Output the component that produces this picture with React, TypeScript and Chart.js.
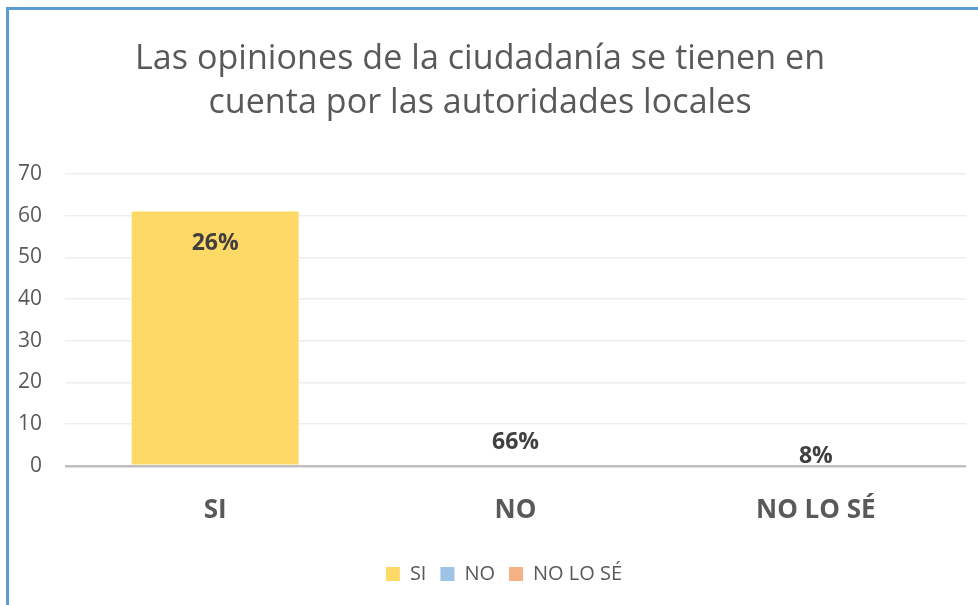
import React, { useEffect, useRef } from 'react';
import { Chart, registerables } from 'chart.js';

Chart.register(...registerables);

// ---- data ----
const categories = ['SI', 'NO', 'NO LO SÉ'];
const values = [61, 0, 0];
const percentLabels = ['26%', '66%', '8%'];
const barColors = ['#FFD966', '#9DC3E6', '#F4B183'];
const titleLines = [
  'Las opiniones de la ciudadanía se tienen en',
  'cuenta por las autoridades locales',
];
const yMin = 0;
const yMax = 70;
const yStep = 10;

const FONT = '"Open Sans", Lato, sans-serif';
const TEXT = '#595959';

const titlePlugin = {
  id: 'customTitle',
  afterDraw(chart: any, _args: any, opts: any) {
    const ctx = chart.ctx;
    ctx.save();
    ctx.fillStyle = TEXT;
    ctx.font = `${opts.size}px ${FONT}`;
    ctx.textAlign = 'center';
    ctx.textBaseline = 'alphabetic';
    const first = (opts.lines as string[])[0];
    const w = ctx.measureText(first).width;
    const spacing = Math.max(0, (opts.firstLineWidth - w) / (first.length - 1));
    (ctx as any).letterSpacing = `${spacing.toFixed(2)}px`;
    (opts.lines as string[]).forEach((l, i) => {
      ctx.fillText(l, opts.x + spacing / 2, opts.y + i * opts.gap);
    });
    ctx.restore();
  },
};

const valueLabelPlugin = {
  id: 'valueLabels',
  afterDatasetsDraw(chart: any, _args: any, opts: any) {
    const ctx = chart.ctx;
    const meta = chart.getDatasetMeta(0);
    const yScale = chart.scales.y;
    ctx.save();
    ctx.fillStyle = '#404040';
    ctx.font = `bold ${opts.size}px ${FONT}`;
    ctx.textAlign = 'center';
    ctx.textBaseline = 'middle';
    meta.data.forEach((bar: any, i: number) => {
      const v = values[i];
      const y = v > 0 ? bar.y + opts.insideOffset : yScale.getPixelForValue(0) - opts.zeroLift[i];
      ctx.fillText(percentLabels[i], bar.x, y);
    });
    ctx.restore();
  },
};

export default function App() {
  const ref = useRef<HTMLCanvasElement | null>(null);

  useEffect(() => {
    if (!ref.current) return;
    const chart = new Chart(ref.current, {
      type: 'bar',
      data: {
        labels: categories,
        datasets: [
          {
            label: 'Serie',
            data: values,
            backgroundColor: barColors,
            borderWidth: 0,
            categoryPercentage: 1,
            barPercentage: 0.556,
            yAxisID: 'y',
          },
        ],
      },
      options: {
        animation: false,
        responsive: false,
        devicePixelRatio: 1,
        layout: { padding: { top: 164, left: 0, right: 0, bottom: 11 } },
        scales: {
          x: {
            grid: { display: false, drawTicks: false },
            border: { display: false },
            afterFit(s: any) {
              s.height = s.height - 5;
            },
            ticks: {
              color: TEXT,
              font: { family: FONT, size: 26, weight: 'bold' },
              padding: 29,
            },
          },
          y: {
            min: yMin,
            max: yMax,
            afterFit(s: any) {
              s.width = 56;
            },
            ticks: {
              stepSize: yStep,
              color: TEXT,
              font: { family: FONT, size: 21 },
              padding: 23,
            },
            grid: {
              drawTicks: false,
              color: (c: any) => (c.tick && c.tick.value === 0 ? '#BFBFBF' : '#EEEEEE'),
              lineWidth: (c: any) => (c.tick && c.tick.value === 0 ? 2.5 : 1.5),
            },
            border: { display: false },
          },
          yRight: {
            position: 'right',
            display: true,
            grid: { display: false, drawTicks: false },
            border: { display: false },
            ticks: { display: false },
            afterFit(s: any) {
              s.width = 33;
            },
          },
        },
        plugins: {
          title: { display: false },
          tooltip: { enabled: false },
          legend: {
            position: 'bottom',
            labels: {
              boxWidth: 14,
              boxHeight: 14,
              padding: 14,
              color: TEXT,
              font: { family: FONT, size: 20 },
              generateLabels: () =>
                categories.map((c, i) => ({
                  text: c,
                  fillStyle: barColors[i],
                  strokeStyle: barColors[i],
                  lineWidth: 0,
                  hidden: false,
                  index: i,
                  fontColor: TEXT,
                })),
            },
          },
          customTitle: { lines: titleLines, size: 34, x: 471, y: 59, gap: 44, firstLineWidth: 690 },
          valueLabels: { size: 23, insideOffset: 32, zeroLift: [0, 23, 9] },
        } as any,
      } as any,
      plugins: [titlePlugin, valueLabelPlugin],
    });
    return () => chart.destroy();
  }, []);

  return (
    <div
      style={{
        position: 'fixed',
        left: 6,
        top: 7,
        width: 1010,
        height: 620,
        borderTop: '3px solid #5B9BD5',
        borderLeft: '3px solid #5B9BD5',
        background: '#FFFFFF',
      }}
    >
      <canvas ref={ref} width={990} height={595} style={{ display: 'block' }} />
    </div>
  );
}
